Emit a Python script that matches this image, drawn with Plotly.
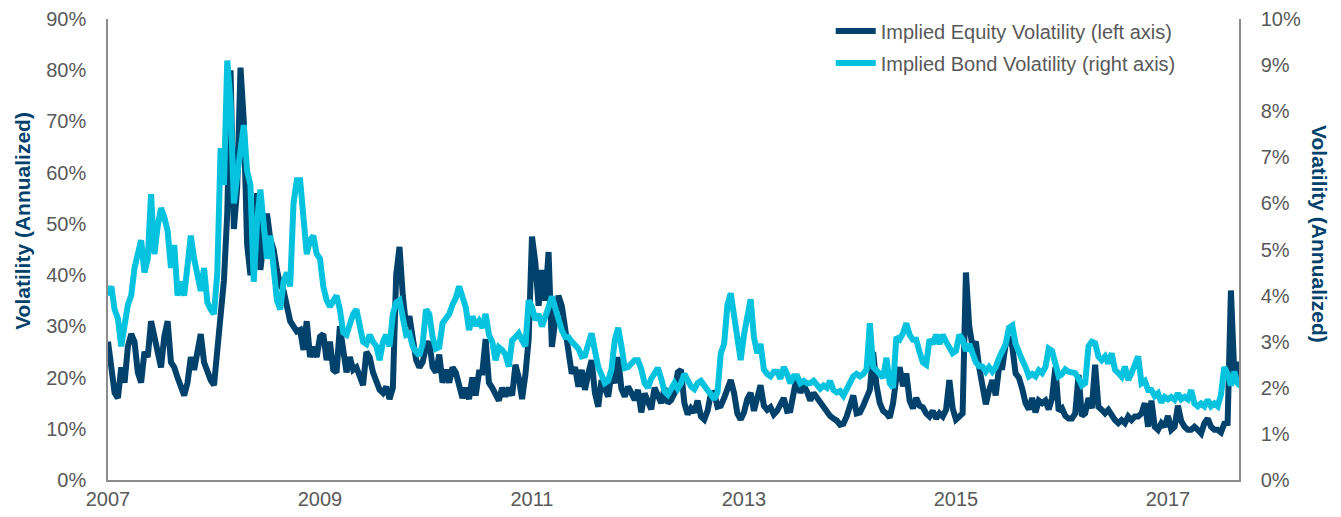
import numpy as np
import plotly.graph_objects as go

# ---- data ----
START_YEAR = 2007.0
STEP_YEARS = 1 / 32  # sampling step of the readings (~11 days)

equity_vol = [  # Implied Equity Volatility, % (left axis)
    27, 21, 17, 16, 22, 19, 26, 28.5, 27, 21,
    19, 25, 24, 31, 28, 24, 22, 28, 31, 23,
    22, 20, 18, 16.5, 19, 24, 21.5, 25, 28.5, 23,
    21, 19.5, 18.5, 25, 31, 39, 52, 80, 49, 57,
    80.5, 70, 46, 40, 43, 56, 41, 48, 52, 47,
    45, 41, 38, 37, 34, 31, 30, 29, 29.3, 25.4,
    31, 24, 26, 24, 28, 28.5, 23.4, 27, 21.5, 21,
    30, 25, 21, 24, 21.5, 22, 20.2, 18.5, 25, 24,
    21, 19, 17.6, 17, 18.2, 15.8, 18, 40, 45.5, 36,
    30, 32, 28, 23.5, 22, 23, 26, 27, 22, 21,
    24.5, 19, 21.5, 19, 22, 21, 18.5, 16, 18, 15.8,
    20, 16.5, 21, 21, 27.5, 19, 18, 16.9, 15.5, 18,
    16.3, 18, 16.5, 22.5, 20, 15.8, 20.5, 27.5, 47.5, 42.5,
    34, 41, 35, 44.5, 26, 31, 36, 34, 29.3, 24.7,
    20.8, 22, 18.2, 21.5, 17.6, 20.8, 23.4, 17, 14.3, 19.5,
    17.6, 16.3, 20.8, 18.9, 24, 17.8, 16.3, 18.2, 17, 15.6,
    17.6, 13.2, 16.9, 15.1, 13.8, 18, 16.3, 15, 18, 15,
    15.6, 16.9, 21, 21.5, 15, 12.8, 14, 13.2, 15.5, 12.4,
    11.8, 13.5, 16.8, 17, 14.3, 14.5, 16, 17.6, 19.5, 17,
    13, 11.8, 13.2, 15.8, 17, 13.5, 15.8, 18.5, 14.5, 13.7,
    14.2, 12.8, 13.5, 15, 16, 13.5, 13.6, 17, 20.5, 17,
    18.5, 17.3, 15.5, 17, 16, 15, 14.2, 13.3, 12.5, 12,
    11.6, 10.8, 11, 12.4, 14.5, 16.5, 13, 13.2, 14.5, 16,
    17.6, 25, 18.5, 15, 13.5, 13, 12.2, 15, 20, 22,
    18.3, 20.8, 15.5, 14, 16, 14.5, 14.2, 13, 12.4, 13.5,
    12, 13, 12.4, 13.7, 19.5, 14, 11.8, 12.4, 13, 40.5,
    30, 26, 27, 22, 18, 14.8, 17.5, 19.5, 16.5, 22,
    22, 26.5, 28, 26, 20.8, 20, 17.8, 15, 13.8, 16,
    13.2, 15.5, 15, 15.5, 13.8, 16, 22, 13.5, 14, 12.5,
    12, 12, 13, 20.5, 12.5, 13, 16, 14, 22.5, 14.3,
    13.7, 13, 13.7, 12.4, 11.7, 11.1, 11.7, 11.1, 12.4, 11.7,
    12.4, 12.4, 13, 15, 10.4, 15.5, 10.4, 9.8, 11.1, 10.4,
    12.5, 9.8, 10.4, 14.5, 11.5, 10.4, 9.8, 9.8, 10.4, 9.8,
    9.1, 11.1, 12, 10.4, 9.8, 9.8, 9.3, 11, 11.1, 37,
    21, 23, 19,
]

bond_vol = [  # Implied Bond Volatility, % (right axis)
    4.0, 4.2, 3.7, 3.5, 2.9, 3.4, 3.8, 4.0, 4.6, 4.9,
    5.2, 4.5, 4.8, 6.2, 4.9, 5.5, 5.9, 5.7, 5.4, 4.6,
    5.1, 4.0, 4.3, 4.0, 4.6, 5.3, 4.8, 4.5, 4.1, 4.6,
    3.85, 3.7, 3.6, 4.5, 7.2, 6.4, 9.1, 8.2, 6.0, 6.6,
    7.2, 7.7, 6.7, 6.4, 4.3, 5.6, 6.3, 5.6, 4.8, 5.3,
    4.4, 3.9, 3.7, 4.3, 4.5, 4.2, 6.0, 6.5, 6.5, 5.5,
    4.9, 5.2, 5.3, 4.9, 4.8, 4.2, 3.9, 3.76, 3.9, 4.0,
    3.7, 3.2, 3.15, 3.35, 3.6, 3.7, 3.4, 3.0, 2.95, 3.15,
    3.0, 2.9, 2.6, 3.0, 3.15, 2.9, 3.6, 3.85, 3.9, 3.5,
    3.15, 3.18, 2.9, 2.78, 2.7, 2.95, 3.7, 3.6, 3.1, 2.85,
    2.88, 3.4, 3.5, 3.6, 3.8, 3.95, 4.2, 4.0, 3.75, 3.25,
    3.55, 3.35, 3.45, 3.3, 3.6, 3.15, 3.0, 2.6, 2.88, 2.82,
    2.72, 2.46, 3.03, 3.1, 3.18, 3.03, 2.9, 3.9, 3.75, 3.47,
    3.6, 3.33, 3.6, 3.75, 3.98, 3.7, 3.4, 3.25, 3.1, 3.1,
    3.0, 2.9, 2.85, 2.68, 2.7, 2.95, 3.18, 2.8, 2.45, 2.28,
    2.1, 2.15, 2.4, 3.04, 3.3, 2.9, 2.43, 2.45, 2.53, 2.6,
    2.6, 2.4, 2.1, 2.0, 2.2, 2.35, 2.43, 2.2, 1.92, 1.85,
    1.95, 2.1, 1.98, 2.1, 2.3, 2.15, 2.03, 1.97, 2.1, 2.15,
    2.03, 1.95, 1.86, 1.75, 1.9, 2.75, 2.95, 3.8, 4.05, 3.5,
    3.2, 2.6, 3.15, 3.62, 3.92, 3.1, 2.75, 2.95, 2.4, 2.3,
    2.25, 2.35, 2.35, 2.2, 2.45, 2.3, 2.1, 2.25, 2.25, 2.1,
    2.15, 2.1, 2.1, 2.15, 2.05, 1.98, 2.05, 2.0, 2.15, 1.95,
    1.9, 1.93, 1.83, 1.95, 2.12, 2.25, 2.3, 2.25, 2.3, 2.4,
    3.4, 2.45, 2.38, 2.3, 2.22, 2.65, 2.1, 2.0, 3.1, 3.05,
    3.18, 3.4, 3.15, 3.04, 3.04, 2.78, 2.55, 2.5, 3.05, 2.95,
    3.15, 2.95, 3.15, 3.0, 2.88, 2.75, 2.8, 3.15, 3.05, 2.8,
    2.95, 2.7, 2.55, 2.47, 2.46, 2.35, 2.45, 2.35, 2.45, 2.65,
    2.8, 2.95, 3.3, 3.35, 2.95, 2.73, 2.6, 2.45, 2.25, 2.3,
    2.25, 2.38, 2.32, 2.45, 2.85, 2.8, 2.45, 2.25, 2.3, 2.4,
    2.35, 2.35, 2.32, 2.2, 2.05, 2.1, 2.9, 3.0, 2.97, 2.68,
    2.6, 2.68, 2.53, 2.75, 2.39, 2.32, 2.24, 2.46, 2.17, 2.32,
    2.53, 2.68, 2.1, 2.15, 1.95, 1.95, 1.82, 1.88, 1.68, 1.8,
    1.75, 1.8, 1.74, 1.88, 1.75, 1.8, 1.75, 1.95, 1.66, 1.6,
    1.66, 1.6, 1.74, 1.6, 1.66, 1.6, 1.85, 2.45, 2.3, 2.05,
    2.35, 2.1, 2.03,
]

x_tick_years = [2007, 2009, 2011, 2013, 2015, 2017]
x_tick_labels = ["2007", "2009", "2011", "2013", "2015", "2017"]
left_ticks = [0, 10, 20, 30, 40, 50, 60, 70, 80, 90]
right_ticks = [0, 1, 2, 3, 4, 5, 6, 7, 8, 9, 10]

equity_name = "Implied Equity Volatility (left axis)"
bond_name = "Implied Bond Volatility (right axis)"
axis_title = "Volatility (Annualized)"

# ---- styling ----
NAVY = "#00426B"
CYAN = "#05C3DE"
TICK_GREY = "#595959"
AXIS_GREY = "#8C8C8C"
FONT = "Liberation Sans, Arial, Helvetica, sans-serif"

years_eq = START_YEAR + np.arange(len(equity_vol)) * STEP_YEARS
years_bd = START_YEAR + np.arange(len(bond_vol)) * STEP_YEARS

fig = go.Figure()
fig.add_trace(go.Scatter(
    x=years_bd, y=bond_vol, name=bond_name, yaxis="y2",
    mode="lines", line=dict(color=CYAN, width=6),
    legendgroup="b", legendrank=2,
))
fig.add_trace(go.Scatter(
    x=years_eq, y=equity_vol, name=equity_name, yaxis="y",
    mode="lines", line=dict(color=NAVY, width=6),
    legendgroup="a", legendrank=1,
))

# page body has an 8px margin: size the figure to fit the 1341x517 window
fig.update_layout(
    width=1325, height=501,
    margin=dict(l=100, r=94, t=11, b=29, autoexpand=False),
    paper_bgcolor="white", plot_bgcolor="white",
    font=dict(family=FONT, size=20, color=TICK_GREY),
    showlegend=True,
    legend=dict(
        x=0.639, y=1.016, xanchor="left", yanchor="top",
        bgcolor="rgba(255,255,255,0)",
        font=dict(size=20, color=TICK_GREY),
        tracegroupgap=3, itemwidth=40,
        traceorder="grouped",
    ),
    xaxis=dict(
        range=[2007, 2017.67], tickmode="array",
        tickvals=x_tick_years, ticktext=x_tick_labels,
        showgrid=False, zeroline=False, showline=True, automargin=False,
        linecolor=AXIS_GREY, linewidth=1.5, ticks="",
        tickfont=dict(size=20, color=TICK_GREY), ticklabelstandoff=0,
    ),
    yaxis=dict(
        range=[0, 90], tickmode="array", tickvals=left_ticks,
        ticktext=[f"{v}%" for v in left_ticks],
        showgrid=False, zeroline=False, showline=True, automargin=False,
        linecolor=AXIS_GREY, linewidth=1.5, ticks="",
        tickfont=dict(size=20, color=TICK_GREY), ticklabelstandoff=16,
    ),
    yaxis2=dict(
        range=[0, 10], tickmode="array", tickvals=right_ticks,
        ticktext=[f"{v}%" for v in right_ticks],
        overlaying="y", side="right",
        showgrid=False, zeroline=False, showline=True, automargin=False,
        linecolor=AXIS_GREY, linewidth=1.5, ticks="",
        tickfont=dict(size=20, color=TICK_GREY), ticklabelstandoff=16,
    ),
    annotations=[
        dict(text=f"<b>{axis_title}</b>", xref="paper", yref="paper",
             x=-0.0752, y=0.562, textangle=-90, showarrow=False,
             xanchor="center", yanchor="middle",
             font=dict(family=FONT, size=21, color=NAVY)),
        dict(text=f"<b>{axis_title}</b>", xref="paper", yref="paper",
             x=1.0716, y=0.5336, textangle=90, showarrow=False,
             xanchor="center", yanchor="middle",
             font=dict(family=FONT, size=21, color=NAVY)),
    ],
)

fig.write_html("out.html")
